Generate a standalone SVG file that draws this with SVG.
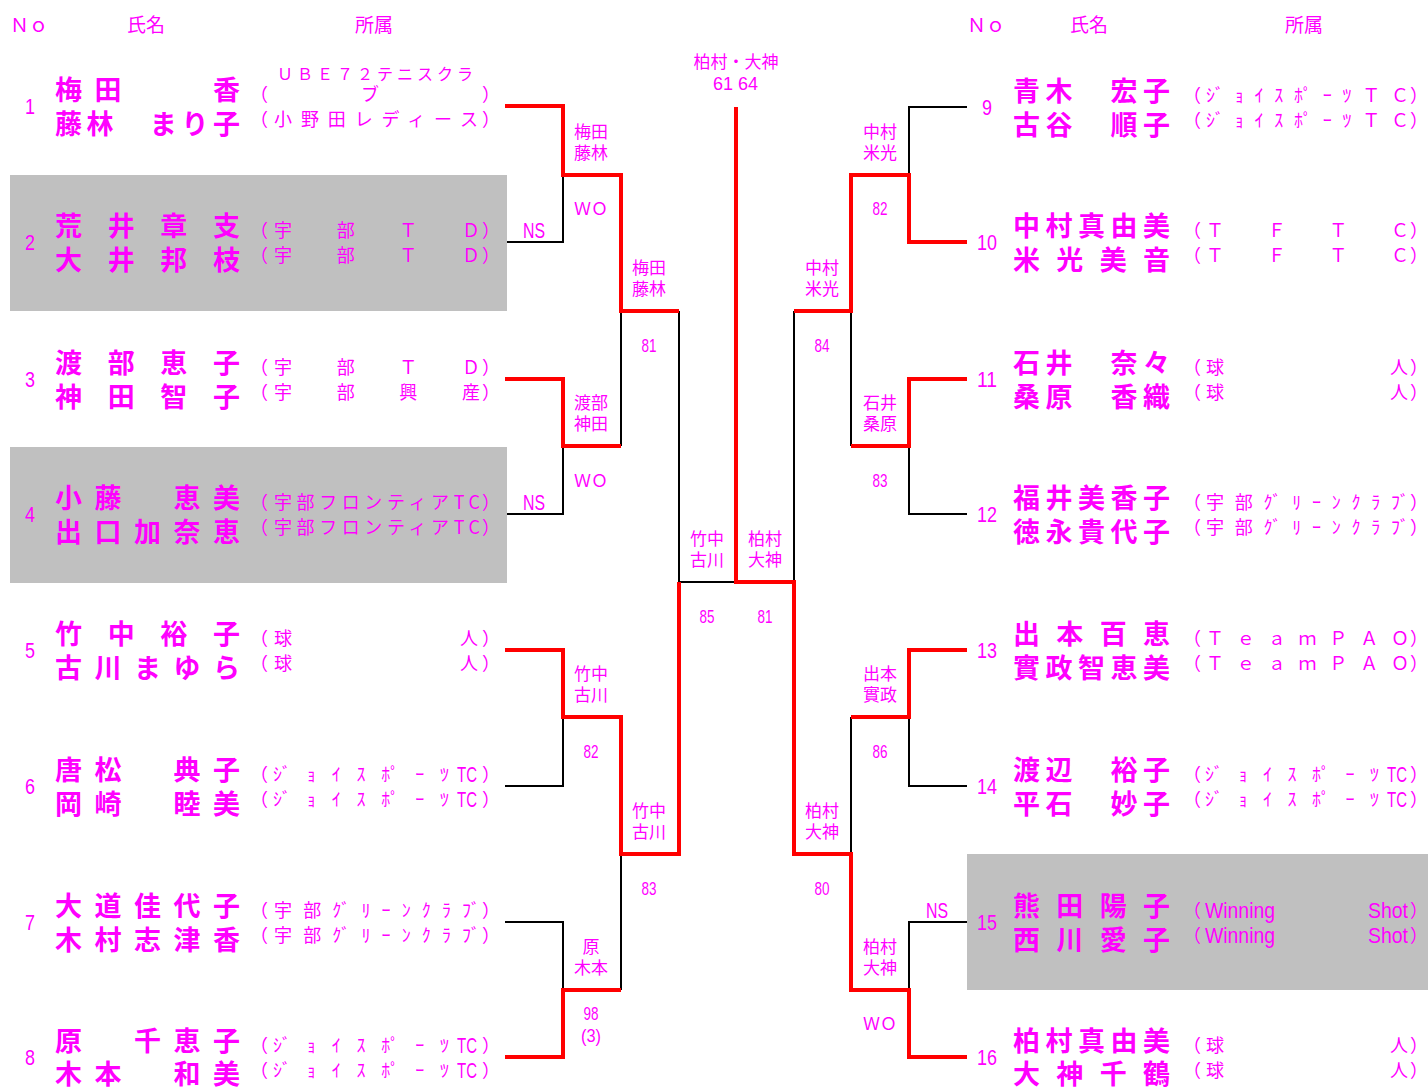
<svg xmlns="http://www.w3.org/2000/svg" width="1428" height="1088" viewBox="0 0 1428 1088">
<style>
text{font-family:"Noto Sans CJK JP","Noto Sans CJK SC",sans-serif;fill:#ff00ff}
.nm{font-size:27px;font-weight:600}
.af{font-size:18px}
.hd{font-size:19px}
.lb{font-size:17px;text-anchor:middle}
.dg{font-family:"Liberation Sans",Arial,sans-serif;font-size:22px}
.sc{font-family:"Liberation Sans",Arial,sans-serif;font-size:19px}
.k{fill:none;stroke:#000;stroke-width:2}
.r{fill:none;stroke:#ff0000;stroke-width:4}
.bg{fill:#c0c0c0}
</style>
<rect class="bg" x="10" y="175" width="497" height="136"/>
<rect class="bg" x="10" y="447" width="497" height="136"/>
<rect class="bg" x="967" y="854" width="461" height="136"/>
<g id="header">
<text class="hd" x="10" y="32">Ｎｏ</text>
<text class="hd" x="127" y="32">氏名</text>
<text class="hd" x="355" y="32">所属</text>
<text class="hd" x="967" y="32">Ｎｏ</text>
<text class="hd" x="1070" y="32">氏名</text>
<text class="hd" x="1285" y="32">所属</text>
</g>
<g id="connectors">
<path class="k" d="M507,242H563V175 M507,514H563V446 M505,786H563V717 M505,922H563V990 M621,311V446 M621,854V990 M679,311V582H736"/>
<path class="k" d="M967,107H909V175 M967,514H909V446 M967,786H909V717 M967,922H909V990 M851,311V446 M851,717V854 M794,311V582"/>
<path class="r" d="M505,106H563V175H621V311H679"/>
<path class="r" d="M505,379H563V446H621"/>
<path class="r" d="M505,650H563V717H621V854H679V582"/>
<path class="r" d="M505,1057H563V990H621"/>
<path class="r" d="M736,107V582H794V854H851V990H909V1057H967"/>
<path class="r" d="M967,242H909V175H851V311H794"/>
<path class="r" d="M967,379H909V446H851"/>
<path class="r" d="M967,650H909V717H851"/>
</g>
<g id="match-labels">
<text class="lb" x="736" y="68">柏村・大神</text>
<text class="sc" x="713" y="90" textLength="45" lengthAdjust="spacingAndGlyphs">61 64</text>
<text class="lb" x="591" y="138">梅田</text><text class="lb" x="591" y="159">藤林</text><text class="lb" x="591" y="215">ＷＯ</text>
<text class="lb" x="591" y="409">渡部</text><text class="lb" x="591" y="430">神田</text><text class="lb" x="591" y="487">ＷＯ</text>
<text class="lb" x="591" y="680">竹中</text><text class="lb" x="591" y="701">古川</text><text class="sc" x="583.5" y="758" textLength="15" lengthAdjust="spacingAndGlyphs">82</text>
<text class="lb" x="591" y="953">原</text><text class="lb" x="591" y="974">木本</text><text class="sc" x="583.5" y="1020" textLength="15" lengthAdjust="spacingAndGlyphs">98</text><text class="sc" x="581" y="1042" textLength="20" lengthAdjust="spacingAndGlyphs">(3)</text>
<text class="lb" x="649" y="274">梅田</text><text class="lb" x="649" y="295">藤林</text><text class="sc" x="641.5" y="352" textLength="15" lengthAdjust="spacingAndGlyphs">81</text>
<text class="lb" x="649" y="817">竹中</text><text class="lb" x="649" y="838">古川</text><text class="sc" x="641.5" y="895" textLength="15" lengthAdjust="spacingAndGlyphs">83</text>
<text class="lb" x="707" y="545">竹中</text><text class="lb" x="707" y="566">古川</text><text class="sc" x="699.5" y="623" textLength="15" lengthAdjust="spacingAndGlyphs">85</text>
<text class="lb" x="765" y="545">柏村</text><text class="lb" x="765" y="566">大神</text><text class="sc" x="757.5" y="623" textLength="15" lengthAdjust="spacingAndGlyphs">81</text>
<text class="lb" x="822" y="274">中村</text><text class="lb" x="822" y="295">米光</text><text class="sc" x="814.5" y="352" textLength="15" lengthAdjust="spacingAndGlyphs">84</text>
<text class="lb" x="822" y="817">柏村</text><text class="lb" x="822" y="838">大神</text><text class="sc" x="814.5" y="895" textLength="15" lengthAdjust="spacingAndGlyphs">80</text>
<text class="lb" x="880" y="138">中村</text><text class="lb" x="880" y="159">米光</text><text class="sc" x="872.5" y="215" textLength="15" lengthAdjust="spacingAndGlyphs">82</text>
<text class="lb" x="880" y="409">石井</text><text class="lb" x="880" y="430">桑原</text><text class="sc" x="872.5" y="487" textLength="15" lengthAdjust="spacingAndGlyphs">83</text>
<text class="lb" x="880" y="680">出本</text><text class="lb" x="880" y="701">實政</text><text class="sc" x="872.5" y="758" textLength="15" lengthAdjust="spacingAndGlyphs">86</text>
<text class="lb" x="880" y="953">柏村</text><text class="lb" x="880" y="974">大神</text><text class="lb" x="880" y="1030">ＷＯ</text>
<text class="dg" x="523" y="238" textLength="22" lengthAdjust="spacingAndGlyphs">NS</text>
<text class="dg" x="523" y="510" textLength="22" lengthAdjust="spacingAndGlyphs">NS</text>
<text class="dg" x="926" y="918" textLength="22" lengthAdjust="spacingAndGlyphs">NS</text>
</g>
<g id="p1">
<text class="dg" x="25" y="114" textLength="10" lengthAdjust="spacingAndGlyphs">1</text>
<text class="nm" x="55" y="100" textLength="185" lengthAdjust="spacing">梅田　　香</text>
<text class="nm" x="55" y="134" textLength="185" lengthAdjust="spacing">藤林　まり子</text>
<text class="af" x="277" y="80" style="font-size:16px" textLength="196" lengthAdjust="spacing">ＵＢＥ７２テニスクラ</text>
<text class="af" x="250" y="101">（</text><text class="af" x="361" y="101">ブ</text><text class="af" x="482" y="101">）</text>
<text class="af" x="250" y="126">（</text><text class="af" x="482" y="126">）</text>
<text class="af" x="274" y="126" textLength="204" lengthAdjust="spacing">小野田レディース</text>
</g>
<g id="p2">
<text class="dg" x="25" y="250" textLength="10" lengthAdjust="spacingAndGlyphs">2</text>
<text class="nm" x="55" y="236" textLength="185" lengthAdjust="spacing">荒井章支</text>
<text class="nm" x="55" y="270" textLength="185" lengthAdjust="spacing">大井邦枝</text>
<text class="af" x="250" y="237">（</text><text class="af" x="482" y="237">）</text>
<text class="af" x="250" y="262">（</text><text class="af" x="482" y="262">）</text>
<text class="af" x="274" y="237" textLength="206" lengthAdjust="spacing">宇部ＴＤ</text>
<text class="af" x="274" y="262" textLength="206" lengthAdjust="spacing">宇部ＴＤ</text>
</g>
<g id="p3">
<text class="dg" x="25" y="387" textLength="10" lengthAdjust="spacingAndGlyphs">3</text>
<text class="nm" x="55" y="373" textLength="185" lengthAdjust="spacing">渡部恵子</text>
<text class="nm" x="55" y="407" textLength="185" lengthAdjust="spacing">神田智子</text>
<text class="af" x="250" y="374">（</text><text class="af" x="482" y="374">）</text>
<text class="af" x="250" y="399">（</text><text class="af" x="482" y="399">）</text>
<text class="af" x="274" y="374" textLength="206" lengthAdjust="spacing">宇部ＴＤ</text>
<text class="af" x="274" y="399" textLength="206" lengthAdjust="spacing">宇部興産</text>
</g>
<g id="p4">
<text class="dg" x="25" y="522" textLength="10" lengthAdjust="spacingAndGlyphs">4</text>
<text class="nm" x="55" y="508" textLength="185" lengthAdjust="spacing">小藤　恵美</text>
<text class="nm" x="55" y="542" textLength="185" lengthAdjust="spacing">出口加奈恵</text>
<text class="af" x="250" y="509">（</text><text class="af" x="482" y="509">）</text>
<text class="af" x="250" y="534">（</text><text class="af" x="482" y="534">）</text>
<text class="af" x="274" y="509" textLength="206" lengthAdjust="spacing">宇部フロンティアTC</text>
<text class="af" x="274" y="534" textLength="206" lengthAdjust="spacing">宇部フロンティアTC</text>
</g>
<g id="p5">
<text class="dg" x="25" y="658" textLength="10" lengthAdjust="spacingAndGlyphs">5</text>
<text class="nm" x="55" y="644" textLength="185" lengthAdjust="spacing">竹中裕子</text>
<text class="nm" x="55" y="678" textLength="185" lengthAdjust="spacing">古川まゆら</text>
<text class="af" x="250" y="645">（</text><text class="af" x="482" y="645">）</text>
<text class="af" x="250" y="670">（</text><text class="af" x="482" y="670">）</text>
<text class="af" x="274" y="645" textLength="204" lengthAdjust="spacing">球人</text>
<text class="af" x="274" y="670" textLength="204" lengthAdjust="spacing">球人</text>
</g>
<g id="p6">
<text class="dg" x="25" y="794" textLength="10" lengthAdjust="spacingAndGlyphs">6</text>
<text class="nm" x="55" y="780" textLength="185" lengthAdjust="spacing">唐松　典子</text>
<text class="nm" x="55" y="814" textLength="185" lengthAdjust="spacing">岡崎　睦美</text>
<text class="af" x="250" y="781">（</text><text class="af" x="482" y="781">）</text>
<text class="af" x="250" y="806">（</text><text class="af" x="482" y="806">）</text>
<text class="af" x="273" y="781" textLength="176" lengthAdjust="spacing">ｼﾞｮｲｽﾎﾟｰﾂ</text>
<text class="af" x="273" y="806" textLength="176" lengthAdjust="spacing">ｼﾞｮｲｽﾎﾟｰﾂ</text>
<text class="dg" x="457" y="782" textLength="20" lengthAdjust="spacingAndGlyphs">TC</text>
<text class="dg" x="457" y="807" textLength="20" lengthAdjust="spacingAndGlyphs">TC</text>
</g>
<g id="p7">
<text class="dg" x="25" y="930" textLength="10" lengthAdjust="spacingAndGlyphs">7</text>
<text class="nm" x="55" y="916" textLength="185" lengthAdjust="spacing">大道佳代子</text>
<text class="nm" x="55" y="950" textLength="185" lengthAdjust="spacing">木村志津香</text>
<text class="af" x="250" y="917">（</text><text class="af" x="482" y="917">）</text>
<text class="af" x="250" y="942">（</text><text class="af" x="482" y="942">）</text>
<text class="af" x="274" y="917" textLength="206" lengthAdjust="spacing">宇部ｸﾞﾘｰﾝｸﾗﾌﾞ</text>
<text class="af" x="274" y="942" textLength="206" lengthAdjust="spacing">宇部ｸﾞﾘｰﾝｸﾗﾌﾞ</text>
</g>
<g id="p8">
<text class="dg" x="25" y="1065" textLength="10" lengthAdjust="spacingAndGlyphs">8</text>
<text class="nm" x="55" y="1051" textLength="185" lengthAdjust="spacing">原　千恵子</text>
<text class="nm" x="55" y="1084" textLength="185" lengthAdjust="spacing">木本　和美</text>
<text class="af" x="250" y="1052">（</text><text class="af" x="482" y="1052">）</text>
<text class="af" x="250" y="1077">（</text><text class="af" x="482" y="1077">）</text>
<text class="af" x="273" y="1052" textLength="176" lengthAdjust="spacing">ｼﾞｮｲｽﾎﾟｰﾂ</text>
<text class="af" x="273" y="1077" textLength="176" lengthAdjust="spacing">ｼﾞｮｲｽﾎﾟｰﾂ</text>
<text class="dg" x="457" y="1053" textLength="20" lengthAdjust="spacingAndGlyphs">TC</text>
<text class="dg" x="457" y="1078" textLength="20" lengthAdjust="spacingAndGlyphs">TC</text>
</g>
<g id="p9">
<text class="dg" x="982" y="115" textLength="10" lengthAdjust="spacingAndGlyphs">9</text>
<text class="nm" x="1013" y="101" textLength="157" lengthAdjust="spacing">青木　宏子</text>
<text class="nm" x="1013" y="135" textLength="157" lengthAdjust="spacing">古谷　順子</text>
<text class="af" x="1183" y="102">（</text><text class="af" x="1410" y="102">）</text>
<text class="af" x="1183" y="127">（</text><text class="af" x="1410" y="127">）</text>
<text class="af" x="1206" y="102" textLength="203" lengthAdjust="spacing">ｼﾞｮｲｽﾎﾟｰﾂＴＣ</text>
<text class="af" x="1206" y="127" textLength="203" lengthAdjust="spacing">ｼﾞｮｲｽﾎﾟｰﾂＴＣ</text>
</g>
<g id="p10">
<text class="dg" x="977" y="250" textLength="20" lengthAdjust="spacingAndGlyphs">10</text>
<text class="nm" x="1013" y="236" textLength="157" lengthAdjust="spacing">中村真由美</text>
<text class="nm" x="1013" y="270" textLength="157" lengthAdjust="spacing">米光美音</text>
<text class="af" x="1183" y="237">（</text><text class="af" x="1410" y="237">）</text>
<text class="af" x="1183" y="262">（</text><text class="af" x="1410" y="262">）</text>
<text class="af" x="1206" y="237" textLength="203" lengthAdjust="spacing">ＴＦＴＣ</text>
<text class="af" x="1206" y="262" textLength="203" lengthAdjust="spacing">ＴＦＴＣ</text>
</g>
<g id="p11">
<text class="dg" x="977" y="387" textLength="20" lengthAdjust="spacingAndGlyphs">11</text>
<text class="nm" x="1013" y="373" textLength="157" lengthAdjust="spacing">石井　奈々</text>
<text class="nm" x="1013" y="407" textLength="157" lengthAdjust="spacing">桑原　香織</text>
<text class="af" x="1183" y="374">（</text><text class="af" x="1410" y="374">）</text>
<text class="af" x="1183" y="399">（</text><text class="af" x="1410" y="399">）</text>
<text class="af" x="1206" y="374" textLength="202" lengthAdjust="spacing">球人</text>
<text class="af" x="1206" y="399" textLength="202" lengthAdjust="spacing">球人</text>
</g>
<g id="p12">
<text class="dg" x="977" y="522" textLength="20" lengthAdjust="spacingAndGlyphs">12</text>
<text class="nm" x="1013" y="508" textLength="157" lengthAdjust="spacing">福井美香子</text>
<text class="nm" x="1013" y="542" textLength="157" lengthAdjust="spacing">徳永貴代子</text>
<text class="af" x="1183" y="509">（</text><text class="af" x="1410" y="509">）</text>
<text class="af" x="1183" y="534">（</text><text class="af" x="1410" y="534">）</text>
<text class="af" x="1206" y="509" textLength="203" lengthAdjust="spacing">宇部ｸﾞﾘｰﾝｸﾗﾌﾞ</text>
<text class="af" x="1206" y="534" textLength="203" lengthAdjust="spacing">宇部ｸﾞﾘｰﾝｸﾗﾌﾞ</text>
</g>
<g id="p13">
<text class="dg" x="977" y="658" textLength="20" lengthAdjust="spacingAndGlyphs">13</text>
<text class="nm" x="1013" y="644" textLength="157" lengthAdjust="spacing">出本百恵</text>
<text class="nm" x="1013" y="678" textLength="157" lengthAdjust="spacing">實政智恵美</text>
<text class="af" x="1183" y="645">（</text><text class="af" x="1410" y="645">）</text>
<text class="af" x="1183" y="670">（</text><text class="af" x="1410" y="670">）</text>
<text class="af" x="1206" y="645" textLength="203" lengthAdjust="spacing">ＴｅａｍＰＡＯ</text>
<text class="af" x="1206" y="670" textLength="203" lengthAdjust="spacing">ＴｅａｍＰＡＯ</text>
</g>
<g id="p14">
<text class="dg" x="977" y="794" textLength="20" lengthAdjust="spacingAndGlyphs">14</text>
<text class="nm" x="1013" y="780" textLength="157" lengthAdjust="spacing">渡辺　裕子</text>
<text class="nm" x="1013" y="814" textLength="157" lengthAdjust="spacing">平石　妙子</text>
<text class="af" x="1183" y="781">（</text><text class="af" x="1410" y="781">）</text>
<text class="af" x="1183" y="806">（</text><text class="af" x="1410" y="806">）</text>
<text class="af" x="1205" y="781" textLength="174" lengthAdjust="spacing">ｼﾞｮｲｽﾎﾟｰﾂ</text>
<text class="af" x="1205" y="806" textLength="174" lengthAdjust="spacing">ｼﾞｮｲｽﾎﾟｰﾂ</text>
<text class="dg" x="1387" y="782" textLength="20" lengthAdjust="spacingAndGlyphs">TC</text>
<text class="dg" x="1387" y="807" textLength="20" lengthAdjust="spacingAndGlyphs">TC</text>
</g>
<g id="p15">
<text class="dg" x="977" y="930" textLength="20" lengthAdjust="spacingAndGlyphs">15</text>
<text class="nm" x="1013" y="916" textLength="157" lengthAdjust="spacing">熊田陽子</text>
<text class="nm" x="1013" y="950" textLength="157" lengthAdjust="spacing">西川愛子</text>
<text class="af" x="1183" y="917">（</text><text class="af" x="1410" y="917">）</text>
<text class="af" x="1183" y="942">（</text><text class="af" x="1410" y="942">）</text>
<text class="dg" x="1205" y="918" textLength="70" lengthAdjust="spacingAndGlyphs">Winning</text>
<text class="dg" x="1205" y="943" textLength="70" lengthAdjust="spacingAndGlyphs">Winning</text>
<text class="dg" x="1368" y="918" textLength="40" lengthAdjust="spacingAndGlyphs">Shot</text>
<text class="dg" x="1368" y="943" textLength="40" lengthAdjust="spacingAndGlyphs">Shot</text>
</g>
<g id="p16">
<text class="dg" x="977" y="1065" textLength="20" lengthAdjust="spacingAndGlyphs">16</text>
<text class="nm" x="1013" y="1051" textLength="157" lengthAdjust="spacing">柏村真由美</text>
<text class="nm" x="1013" y="1084" textLength="157" lengthAdjust="spacing">大神千鶴</text>
<text class="af" x="1183" y="1052">（</text><text class="af" x="1410" y="1052">）</text>
<text class="af" x="1183" y="1077">（</text><text class="af" x="1410" y="1077">）</text>
<text class="af" x="1206" y="1052" textLength="202" lengthAdjust="spacing">球人</text>
<text class="af" x="1206" y="1077" textLength="202" lengthAdjust="spacing">球人</text>
</g>
</svg>
